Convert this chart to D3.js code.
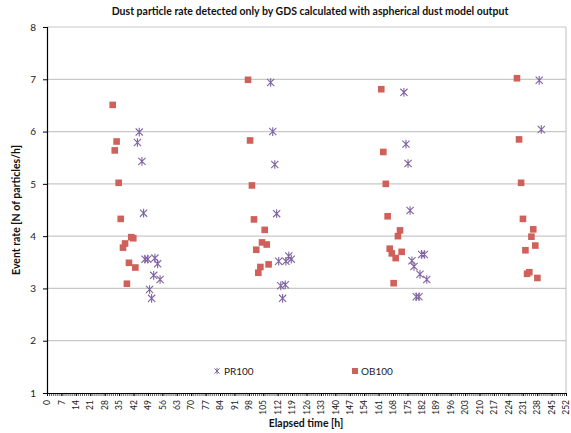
<!DOCTYPE html>
<html>
<head>
<meta charset="utf-8">
<script src="https://cdn.jsdelivr.net/npm/d3@7"></script>
<style>
  body { margin: 0; background: #fff; }
  svg { display: block; font-family: Lato, "Open Sans", sans-serif; }
</style>
</head>
<body>
<div class="canvas"></div>
<script>
// DATA -----------------------------------------------------------------------
const prTime = [44.8, 43.9, 46.1, 46.9, 47.6, 48.9, 52.4, 53.7, 51.8, 54.9, 49.8, 50.8,
                108.6, 109.6, 110.6, 111.5, 112.5, 116.0, 117.4, 118.6, 113.5, 115.7, 114.4,
                173.3, 174.3, 175.3, 176.3, 181.9, 183.2, 177.2, 178.2, 181.1, 184.4, 179.3, 180.6,
                239.0, 240.0];
const prRate = [5.99, 5.79, 5.43, 4.44, 3.56, 3.56, 3.58, 3.47, 3.25, 3.17, 2.98, 2.81,
                6.94, 6.00, 5.37, 4.43, 3.52, 3.52, 3.62, 3.56, 3.05, 3.07, 2.81,
                6.75, 5.76, 5.39, 4.49, 3.65, 3.65, 3.53, 3.42, 3.27, 3.17, 2.84, 2.84,
                6.98, 6.04];
const obTime = [31.9, 33.8, 32.9, 34.8, 35.8, 40.9, 41.9, 37.9, 36.9, 39.8, 42.9, 38.8,
                97.6, 98.6, 99.5, 100.5, 105.7, 104.4, 106.7, 101.6, 107.6, 103.6, 102.6,
                162.3, 163.3, 164.5, 165.4, 171.4, 170.4, 166.4, 167.4, 172.2, 169.3, 168.3,
                228.2, 229.2, 230.2, 231.1, 236.1, 235.2, 237.1, 232.3, 234.2, 233.1, 238.1];
const obRate = [6.51, 5.81, 5.64, 5.02, 4.33, 3.98, 3.96, 3.86, 3.78, 3.49, 3.40, 3.09,
                6.99, 5.83, 4.97, 4.32, 4.12, 3.88, 3.84, 3.74, 3.46, 3.41, 3.30,
                6.81, 5.61, 5.00, 4.38, 4.11, 4.00, 3.76, 3.67, 3.70, 3.58, 3.10,
                7.02, 5.85, 5.02, 4.33, 4.13, 3.99, 3.82, 3.73, 3.31, 3.28, 3.20];
const xTickLabels = d3.range(0, 253, 7);
const yTickLabels = [1, 2, 3, 4, 5, 6, 7, 8];

const prData = prTime.map((t, i) => ({t: t, v: prRate[i]}));
const obData = obTime.map((t, i) => ({t: t, v: obRate[i]}));

// SET UP GRAPH ---------------------------------------------------------------
const width = 571, height = 433;
const svg = d3.select('.canvas')
    .append('svg')
        .attr('width', width)
        .attr('height', height);

const margin = {top: 27, right: 5, bottom: 40, left: 47};
const x = d3.scaleLinear().domain([0, 252]).range([margin.left, width - margin.right]);
const y = d3.scaleLinear().domain([1, 8]).range([height - margin.bottom, margin.top]);

const purple = '#8064a2';
const red = '#d0605a';

// Gridlines
svg.append('g')
    .selectAll('line')
    .data(yTickLabels.slice(1))
    .enter().append('line')
        .attr('x1', x(0)).attr('x2', x(252))
        .attr('y1', d => y(d)).attr('y2', d => y(d))
        .attr('stroke', '#c8c8c8')
        .attr('stroke-width', 1.2);

// Right border
svg.append('line')
    .attr('x1', x(252)).attr('x2', x(252))
    .attr('y1', y(8)).attr('y2', y(1))
    .attr('stroke', '#c8c8c8')
    .attr('stroke-width', 1.2);

// Y axis
const yAxis = d3.axisLeft(y)
    .tickValues(yTickLabels)
    .tickSize(4)
    .tickPadding(7)
    .tickFormat(d3.format('d'));
const yAxisGroup = svg.append('g')
    .attr('transform', `translate(${x(0)}, 0)`)
    .call(yAxis);
yAxisGroup.select('.domain').attr('stroke', '#000').attr('stroke-width', 1.2);
yAxisGroup.selectAll('.tick line').attr('stroke', '#000');
yAxisGroup.selectAll('text')
    .attr('fill', '#222')
    .style('font', '10px Lato');

// X axis: minor ticks every hour, labels every 7 h
const xMinor = d3.axisBottom(x)
    .tickValues(d3.range(0, 253, 1))
    .tickSize(3)
    .tickFormat('');
const xMinorGroup = svg.append('g')
    .attr('transform', `translate(0, ${y(1)})`)
    .call(xMinor);
xMinorGroup.selectAll('.tick line').attr('stroke', '#333').attr('stroke-width', 0.8);
xMinorGroup.select('.domain').remove();

const xAxis = d3.axisBottom(x)
    .tickValues(xTickLabels)
    .tickSize(3)
    .tickSizeOuter(0)
    .tickFormat(d3.format('d'));
const xAxisGroup = svg.append('g')
    .attr('transform', `translate(0, ${y(1)})`)
    .call(xAxis);
xAxisGroup.select('.domain').attr('stroke', '#000').attr('stroke-width', 1.2);
xAxisGroup.selectAll('.tick line').attr('stroke', '#000');
xAxisGroup.selectAll('text')
    .attr('transform', 'rotate(-90)')
    .attr('text-anchor', 'end')
    .attr('x', -7)
    .attr('y', 0)
    .attr('dy', '0.32em')
    .attr('fill', '#222')
    .style('font', '8.5px Lato');

// Titles
svg.append('text')
    .attr('text-anchor', 'middle')
    .attr('x', 310)
    .attr('y', 15)
    .text('Dust particle rate detected only by GDS calculated with aspherical dust model output')
    .style('font', 'bold 10.5px Lato')
    .attr('fill', '#111');

svg.append('text')
    .attr('text-anchor', 'middle')
    .attr('x', 306)
    .attr('y', 427)
    .text('Elapsed time [h]')
    .style('font', 'bold 10.5px Lato')
    .attr('fill', '#111');

svg.append('text')
    .attr('text-anchor', 'middle')
    .attr('transform', `translate(20, ${(y(8) + y(1)) / 2}) rotate(-90)`)
    .text('Event rate [N of particles/h]')
    .style('font', 'bold 10.5px Lato')
    .attr('fill', '#111');

// MARKERS --------------------------------------------------------------------
const starPath = (s) => `M${-s},${-s}L${s},${s}M${-s},${s}L${s},${-s}M0,${-s * 1.2}L0,${s * 1.2}`;

svg.append('g')
    .selectAll('rect')
    .data(obData)
    .enter().append('rect')
        .attr('x', d => x(d.t) - 3.3)
        .attr('y', d => y(d.v) - 3.3)
        .attr('width', 6.6)
        .attr('height', 6.6)
        .attr('fill', red);

svg.append('g')
    .selectAll('path')
    .data(prData)
    .enter().append('path')
        .attr('transform', d => `translate(${x(d.t)}, ${y(d.v)})`)
        .attr('d', starPath(3.6))
        .attr('stroke', purple)
        .attr('stroke-width', 1.1)
        .attr('fill', 'none');

// LEGEND ---------------------------------------------------------------------
const legend = svg.append('g');
legend.append('path')
    .attr('transform', 'translate(217, 371)')
    .attr('d', starPath(2.6))
    .attr('stroke', purple)
    .attr('stroke-width', 1)
    .attr('fill', 'none');
legend.append('text')
    .attr('x', 224)
    .attr('y', 374.5)
    .text('PR100')
    .style('font', '10px Lato')
    .attr('fill', '#222');
legend.append('rect')
    .attr('x', 352)
    .attr('y', 368)
    .attr('width', 6)
    .attr('height', 6)
    .attr('fill', red);
legend.append('text')
    .attr('x', 361)
    .attr('y', 374.5)
    .text('OB100')
    .style('font', '10px Lato')
    .attr('fill', '#222');
</script>
</body>
</html>
